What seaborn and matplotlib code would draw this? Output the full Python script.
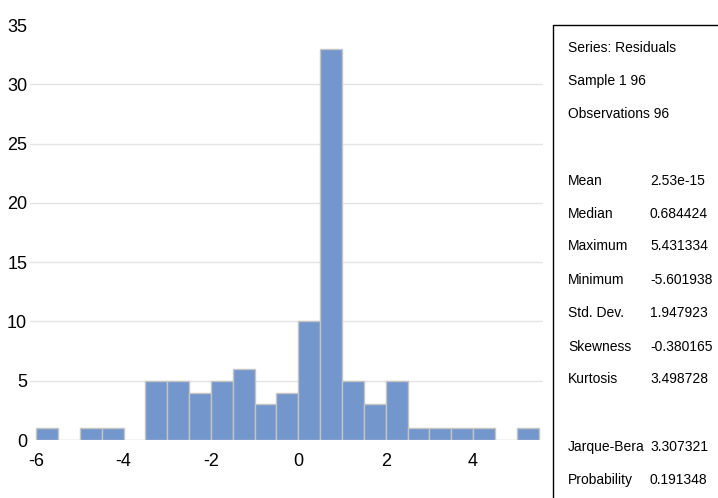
import matplotlib
matplotlib.use("Agg")
import matplotlib.pyplot as plt
import seaborn as sns
import numpy as np
from matplotlib.patches import Rectangle

# Data: histogram of residuals (bin width 0.5, from -6 to 5.5)
bin_edges = [-6.0, -5.5, -5.0, -4.5, -4.0, -3.5, -3.0, -2.5, -2.0, -1.5, -1.0, -0.5,
             0.0, 0.5, 1.0, 1.5, 2.0, 2.5, 3.0, 3.5, 4.0, 4.5, 5.0, 5.5]
counts = [1, 0, 1, 1, 0, 5, 5, 4, 5, 6, 3, 4, 10, 33, 5, 3, 5, 1, 1, 1, 1, 0, 1]
x_ticks = [-6, -4, -2, 0, 2, 4]
y_ticks = [0, 5, 10, 15, 20, 25, 30, 35]

stat_header = ["Series: Residuals", "Sample 1 96", "Observations 96"]
stat_names = ["Mean", "Median", "Maximum", "Minimum", "Std. Dev.", "Skewness", "Kurtosis"]
stat_values = ["2.53e-15", "0.684424", "5.431334", "-5.601938", "1.947923", "-0.380165", "3.498728"]
test_names = ["Jarque-Bera", "Probability"]
test_values = ["3.307321", "0.191348"]

sns.set_style("white")
plt.rcParams['font.family'] = ['Liberation Sans', 'DejaVu Sans']
plt.rcParams['text.color'] = 'black'
plt.rcParams['xtick.color'] = 'black'
plt.rcParams['ytick.color'] = 'black'

W, H = 718, 498
fig = plt.figure(figsize=(W / 100, H / 100), dpi=100)
ax = fig.add_axes([30 / W, 1 - 440 / H, (543 - 30) / W, (440 - 25) / H])

bin_left = [e for e in bin_edges[:-1]]
sns.histplot(x=bin_left, weights=counts, bins=bin_edges, ax=ax,
             color="#7396CC", edgecolor="#C4C4C4", linewidth=1.0, alpha=1.0)

ax.set_xlim(-6.14, 5.6)
ax.set_ylim(0, 35)
ax.set_xticks(x_ticks)
ax.set_yticks(y_ticks)
ax.set_xticklabels([str(v) for v in x_ticks])
ax.set_yticklabels([str(v) for v in y_ticks])
ax.tick_params(axis='both', length=0, labelsize=13, labelcolor='black')
ax.tick_params(axis='y', pad=2)
ax.tick_params(axis='x', pad=9)
ax.set_xlabel("")
ax.set_ylabel("")
for s in ax.spines.values():
    s.set_visible(False)
for yv in y_ticks[1:-1]:
    ax.axhline(yv, color="#E4E4E4", linewidth=1.0, zorder=0)
ax.set_axisbelow(True)

# Stats box
box = Rectangle((553 / W, 1 - 510 / H), (740 - 553) / W, (510 - 25) / H,
                transform=fig.transFigure, fill=False, edgecolor="black",
                linewidth=1.0, clip_on=False)
fig.patches.append(box)

fs = 10
x0 = 568 / W
x1 = 650 / W
ys_header = [48, 81, 114]
for t, yp in zip(stat_header, ys_header):
    fig.text(x0, 1 - yp / H, t, fontsize=fs, va="center", ha="left")
ys_stats = [181, 214, 246, 280, 313, 347, 379]
for n, v, yp in zip(stat_names, stat_values, ys_stats):
    fig.text(x0, 1 - yp / H, n, fontsize=fs, va="center", ha="left")
    fig.text(x1, 1 - yp / H, v, fontsize=fs, va="center", ha="left")
ys_tests = [447, 480]
for n, v, yp in zip(test_names, test_values, ys_tests):
    fig.text(x0, 1 - yp / H, n, fontsize=fs, va="center", ha="left")
    fig.text(x1, 1 - yp / H, v, fontsize=fs, va="center", ha="left")

fig.savefig("out.png", dpi=100)
